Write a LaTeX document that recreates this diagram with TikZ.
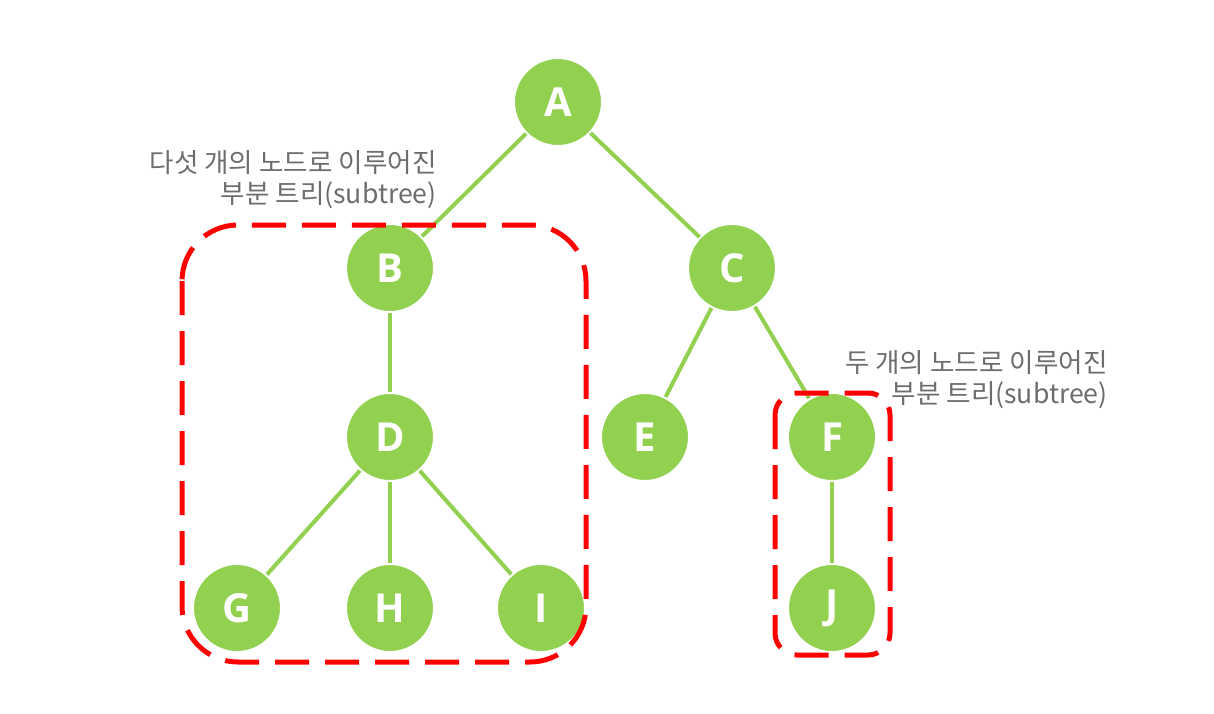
\documentclass[tikz,border=0pt]{standalone}
\usepackage{fontspec}
\setmainfont{Open Sans}
\newfontfamily\krfont{Noto Sans CJK KR}
\usepackage{tikz}
\usetikzlibrary{positioning}
\definecolor{leafgreen}{HTML}{92D050}
\definecolor{notegray}{HTML}{6D6D6D}

\begin{document}
\begin{tikzpicture}[x=0.5pt, y=-0.5pt]
  \tikzset{tnode/.style={circle, fill=leafgreen, draw=white, line width=1pt,
                         minimum size=44pt, inner sep=0pt,
                         font=\fontsize{20}{20}\selectfont\bfseries, text=white}}
  \tikzset{edge/.style={leafgreen, line width=2pt}}
  \tikzset{subbox/.style={red, line width=2.5pt, dash pattern=on 17pt off 8pt}}
  \tikzset{note/.style={font=\krfont\fontsize{13.3}{15.5}\selectfont, text=notegray,
                        align=right, anchor=east, inner sep=0pt}}

  \useasboundingbox (0,0) rectangle (1214,713);

  % tree nodes
  \foreach \name/\x/\y in {A/558/102, B/390/268, C/732/268, D/390/437,
                           E/645/437, F/832/437, G/237/608, H/390/608,
                           I/541/608, J/832/608}{
    \node[tnode] (\name) at (\x, \y) {\name};
  }

  % edges
  \foreach \a/\b in {A/B, A/C, B/D, C/E, C/F, D/G, D/H, D/I, F/J}{
    \draw[edge] (\a) -- (\b);
  }

  % subtree boxes
  \draw[subbox, rounded corners=28pt] (182,225) rectangle (586,662);
  \draw[subbox, rounded corners=11pt] (775,393) rectangle (890,655);

  % notes
  \node[note] (note1) at (437,180) {다섯 개의 노드로 이루어진\\부분 트리(subtree)};
  \node[note] (note2) at (1108,380) {두 개의 노드로 이루어진\\부분 트리(subtree)};
\end{tikzpicture}
\end{document}
